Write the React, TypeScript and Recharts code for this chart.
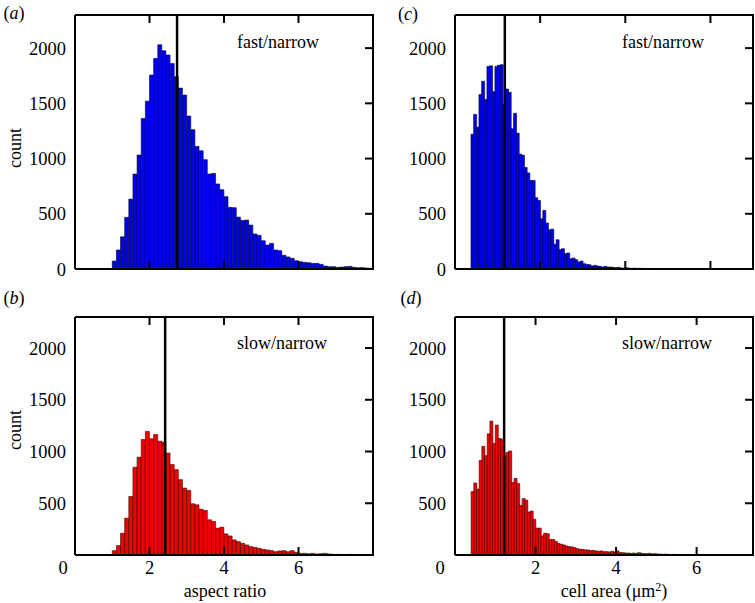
import React from "react";
import { ComposedChart, Bar, XAxis, YAxis, ReferenceLine } from "recharts";

// -------------------------------
// Histogram counts
// -------------------------------
const aspectFastCounts = [
  72, 172, 292, 468, 633, 860, 1032, 1363, 1520, 1756, 1906, 2030, 1976, 1937,
  1861, 1741, 1638, 1575, 1385, 1262, 1110, 1071, 990, 860, 866, 770, 718, 655,
  558, 555, 470, 440, 443, 398, 317, 305, 256, 217, 232, 172, 166, 124, 109, 97,
  75, 66, 60, 57, 51, 51, 42, 27, 21, 21, 15, 18, 21, 24, 15, 12, 12, 9, 6,
];

const aspectSlowCounts = [
  42, 91, 210, 356, 566, 848, 945, 1116, 1194, 1123, 1165, 1100, 1090, 985, 874,
  825, 728, 647, 625, 495, 485, 443, 430, 340, 324, 259, 269, 204, 184, 146, 129,
  113, 97, 81, 74, 65, 55, 49, 42, 32, 39, 42, 32, 42, 26, 16, 16, 13, 16, 10, 13,
  16, 10, 6, 6, 5, 4, 6, 3, 4, 3, 2, 2,
];

const areaFastCounts = [
  1220, 1400, 1285, 1580, 1700, 1535, 1835, 1840, 1605, 1835, 1845, 1850, 1490,
  1630, 1600, 1270, 1410, 1230, 1040, 1030, 920, 870, 801, 801, 645, 620, 455,
  530, 416, 355, 361, 223, 265, 175, 184, 139, 145, 93, 99, 84, 63, 72, 48, 42,
  39, 27, 33, 27, 24, 18, 24, 18, 18, 15, 12, 15, 9, 9, 12, 7, 6, 8, 5, 6, 5, 4,
  5, 3, 4, 3,
];

const areaSlowCounts = [
  612, 696, 637, 913, 1050, 960, 1171, 1294, 1078, 1256, 1126, 1120, 960, 990,
  1005, 700, 740, 690, 480, 545, 530, 415, 425, 345, 260, 260, 185, 210, 205, 150,
  150, 133, 113, 104, 97, 87, 81, 78, 71, 61, 55, 55, 49, 49, 42, 45, 39, 36, 39,
  32, 32, 29, 36, 29, 39, 23, 23, 19, 19, 16, 19, 16, 23, 16, 13, 13, 16, 10, 13,
  10, 8, 7, 8, 6, 5, 6, 5, 4, 5, 4, 3, 4, 3, 3, 2,
];

// bins and medians
const aspectBinStart = 1;
const aspectBinWidth = 1 / 9;
const areaFastBinStart = 0.375;
const areaFastBinWidth = 0.0625;
const areaSlowBinStart = 0.4;
const areaSlowBinWidth = 1 / 15;

const aspectFastMedian = 2.74;
const aspectSlowMedian = 2.42;
const areaFastMedian = 1.17;
const areaSlowMedian = 1.22;

const xTicks = [0, 2, 4, 6];
const yTicks = [0, 500, 1000, 1500, 2000];
const Y_MAX = 2300;

// -------------------------------
// Layout
// -------------------------------
const PLOT_W = 298;
const AXIS_W = 75;
const XAXIS_H = 30;
const PAD = 2;
const TICK_LEN = 8;
const X_TICK_MARGIN = 14;
const Y_TICK_MARGIN = 9;
const FONT = "'Liberation Serif', 'Times New Roman', serif";
const TICK_FS = 18.5;
const TEXT_FS = 18;

type PanelProps = {
  counts: number[];
  binStart: number;
  binWidth: number;
  xMax: number;
  median: number;
  left: number;
  top: number;
  plotHeight: number;
  fill: string;
  edge: string;
  bottomRow: boolean;
  zeroShift: number;
};

function Panel(p: PanelProps) {
  const data = p.counts.map((count, i) => ({
    x: p.binStart + (i + 0.5) * p.binWidth,
    count,
  }));
  const line = { stroke: "#000", strokeWidth: 2 };

  // x ticks: label below, plus the mirrored inward tick on the top edge
  const xTick = (props: any) => {
    const v = props.payload.value;
    const axisY = props.y - (X_TICK_MARGIN - TICK_LEN);
    const yTop = axisY - p.plotHeight;
    return (
      <g>
        {v > 0 && (
          <line x1={props.x} x2={props.x} y1={yTop} y2={yTop + TICK_LEN} stroke="#000" strokeWidth={2} />
        )}
        {p.bottomRow && (
          <text
            x={props.x + (v === 0 ? p.zeroShift : 0)}
            y={props.y}
            dy="0.71em"
            textAnchor="middle"
            fontSize={TICK_FS}
            fontFamily={FONT}
            fill="#000"
          >
            {v}
          </text>
        )}
      </g>
    );
  };

  // y ticks: label on the left, mirrored inward tick on the right edge,
  // and the right edge of the frame itself drawn from the 0 tick
  const yTick = (props: any) => {
    const v = props.payload.value;
    const xr = props.x + Y_TICK_MARGIN + PLOT_W;
    return (
      <g>
        {v > 0 && (
          <line x1={xr - TICK_LEN} x2={xr} y1={props.y} y2={props.y} stroke="#000" strokeWidth={2} />
        )}
        {v === 0 && (
          <line
            x1={xr}
            x2={xr}
            y1={props.y + 1}
            y2={props.y - p.plotHeight - 1}
            stroke="#000"
            strokeWidth={2}
          />
        )}
        {!(p.bottomRow && v === 0) && (
          <text
            x={props.x}
            y={props.y}
            dy="0.355em"
            textAnchor="end"
            fontSize={TICK_FS}
            fontFamily={FONT}
            fill="#000"
          >
            {v}
          </text>
        )}
      </g>
    );
  };

  return (
    <div style={{ position: "absolute", left: p.left - AXIS_W, top: p.top - PAD }}>
      <ComposedChart
        width={AXIS_W + PLOT_W + PAD}
        height={PAD + p.plotHeight + XAXIS_H}
        data={data}
        margin={{ top: PAD, right: PAD, bottom: 0, left: 0 }}
        barCategoryGap={0}
        barGap={0}
      >
        <XAxis
          dataKey="x"
          type="number"
          domain={[0, p.xMax]}
          ticks={xTicks}
          interval={0}
          allowDataOverflow
          height={XAXIS_H}
          axisLine={line}
          tickLine={line}
          tickSize={-TICK_LEN}
          tickMargin={X_TICK_MARGIN}
          tick={xTick}
        />
        <YAxis
          type="number"
          domain={[0, Y_MAX]}
          ticks={yTicks}
          interval={0}
          width={AXIS_W}
          axisLine={line}
          tickLine={false}
          tickSize={0}
          tickMargin={Y_TICK_MARGIN}
          tick={yTick}
        />
        <Bar
          dataKey="count"
          fill={p.fill}
          stroke={p.edge}
          strokeWidth={0.6}
          isAnimationActive={false}
        />
        <ReferenceLine x={p.median} stroke="#000" strokeWidth={2.5} />
        {/* top edge of the frame */}
        <ReferenceLine y={Y_MAX} stroke="#000" strokeWidth={2} />
      </ComposedChart>
    </div>
  );
}

function Txt({
  x,
  y,
  children,
  italic,
  rotate,
}: {
  x: number;
  y: number;
  children: React.ReactNode;
  italic?: boolean;
  rotate?: boolean;
}) {
  return (
    <div
      style={{
        position: "absolute",
        left: x,
        top: y,
        transform: `translate(-50%, -50%)${rotate ? " rotate(-90deg)" : ""}`,
        fontFamily: FONT,
        fontSize: TEXT_FS,
        whiteSpace: "nowrap",
        color: "#000",
        lineHeight: 1,
      }}
    >
      {italic ? <span>(<i>{children}</i>)</span> : children}
    </div>
  );
}

const BLUE = "#0000f0";
const BLUE_EDGE = "#00003a";
const RED = "#f00000";
const RED_EDGE = "#3a0000";

export default function App() {
  return (
    <div
      style={{
        position: "absolute",
        left: 0,
        top: 0,
        width: 755,
        height: 603,
        background: "#fff",
        overflow: "hidden",
      }}
    >
      <Panel
        counts={aspectFastCounts}
        binStart={aspectBinStart}
        binWidth={aspectBinWidth}
        xMax={8}
        median={aspectFastMedian}
        left={75}
        top={15}
        plotHeight={254}
        fill={BLUE}
        edge={BLUE_EDGE}
        bottomRow={false}
        zeroShift={0}
      />
      <Panel
        counts={areaFastCounts}
        binStart={areaFastBinStart}
        binWidth={areaFastBinWidth}
        xMax={7}
        median={areaFastMedian}
        left={455}
        top={15}
        plotHeight={254}
        fill={BLUE}
        edge={BLUE_EDGE}
        bottomRow={false}
        zeroShift={0}
      />
      <Panel
        counts={aspectSlowCounts}
        binStart={aspectBinStart}
        binWidth={aspectBinWidth}
        xMax={8}
        median={aspectSlowMedian}
        left={75}
        top={317}
        plotHeight={238}
        fill={RED}
        edge={RED_EDGE}
        bottomRow={true}
        zeroShift={-12}
      />
      <Panel
        counts={areaSlowCounts}
        binStart={areaSlowBinStart}
        binWidth={areaSlowBinWidth}
        xMax={7.4}
        median={areaSlowMedian}
        left={455}
        top={317}
        plotHeight={238}
        fill={RED}
        edge={RED_EDGE}
        bottomRow={true}
        zeroShift={-15}
      />

      <Txt x={14} y={13} italic>a</Txt>
      <Txt x={408} y={14} italic>c</Txt>
      <Txt x={14} y={298} italic>b</Txt>
      <Txt x={411} y={298} italic>d</Txt>

      <Txt x={15} y={148} rotate>count</Txt>
      <Txt x={15} y={430} rotate>count</Txt>

      <Txt x={278} y={42}>fast/narrow</Txt>
      <Txt x={663} y={42}>fast/narrow</Txt>
      <Txt x={282} y={343}>slow/narrow</Txt>
      <Txt x={667} y={343}>slow/narrow</Txt>

      <Txt x={225} y={591}>aspect ratio</Txt>
      <Txt x={614} y={591}>
        cell area (μm<sup style={{ fontSize: 12, verticalAlign: "6px", lineHeight: 0 }}>2</sup>)
      </Txt>
    </div>
  );
}
